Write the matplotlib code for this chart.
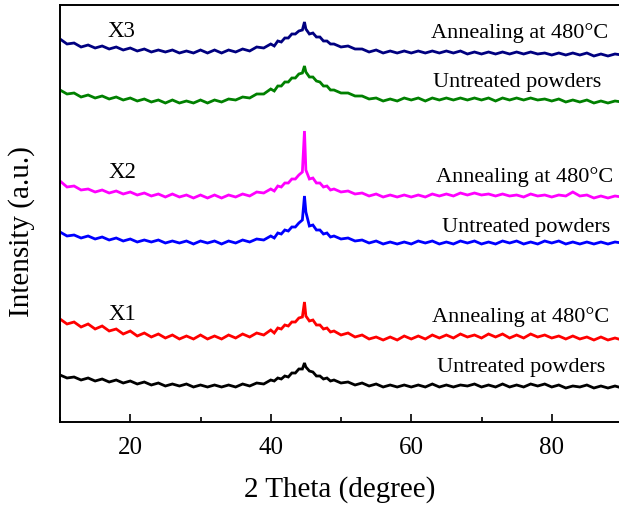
import numpy as np
import matplotlib
matplotlib.use("Agg")
import matplotlib.pyplot as plt
from matplotlib.ticker import MultipleLocator, NullLocator

plt.rcParams['font.family'] = ['Liberation Serif', 'DejaVu Serif']

# sampling grid (2 theta, degree)
two_theta = np.concatenate([
    np.arange(10, 41, 1.0),
    np.arange(40.5, 45.0, 0.5),
    [44.8],
    np.arange(45.0, 49.5, 0.5),
    np.arange(50, 91, 1.0),
])

x1_untreated = [47,44,45,42,44,41,43,40,42,39,41,38,40,37,39,36,38,36,38,35,37,35,37,35,37,35,38,36,39,38,42,
                41,44,43,46,45,49,49,53,53,
                59,
                55,51,50,46,46,43,44,41,42,
                39,40,37,39,36,38,35,37,35,37,35,37,35,38,35,37,35,37,36,38,35,37,35,38,35,37,35,38,36,38,35,37,34,36,35,37,34,36,34,36,34]
x1_annealed = [103,98,100,95,98,93,96,91,93,88,91,86,89,85,88,84,87,83,86,83,87,83,86,83,87,84,88,85,89,87,92,
               89,94,93,97,96,100,100,104,105,
               120,
               106,101,102,97,97,93,94,90,91,
               87,89,85,87,83,85,82,85,82,86,83,86,83,87,84,87,84,88,85,87,84,88,85,88,84,87,84,88,85,87,84,86,83,86,83,85,82,85,82,84,82]
x2_untreated = [190,186,187,184,186,183,185,182,184,181,183,180,182,180,182,179,181,179,181,178,181,179,181,178,181,179,182,180,183,182,186,
                184,189,188,192,191,195,195,199,202,
                226,
                210,196,197,192,192,188,189,185,186,
                183,184,181,182,179,181,178,180,178,180,178,181,179,181,178,180,178,181,179,181,178,180,178,181,179,181,178,180,178,181,179,181,178,180,178,180,178,180,178,180,179]
x2_annealed = [241,235,236,232,233,230,232,229,231,228,230,227,229,226,228,225,228,225,227,224,227,224,227,224,227,225,228,226,230,229,233,
               231,236,235,239,239,243,243,247,250,
               291,
               252,243,244,239,239,235,236,232,233,
               230,231,228,229,226,228,225,227,225,227,225,227,225,228,226,228,226,229,227,229,227,228,226,228,226,227,225,228,226,227,225,227,226,230,226,227,224,226,224,226,225]
x3_untreated = [332,328,329,325,327,324,326,323,325,322,324,321,323,320,322,319,322,319,321,319,322,319,322,320,323,322,325,324,328,328,333,
                331,336,336,340,340,344,344,348,349,
                356,
                350,345,345,341,340,336,336,332,332,
                329,329,326,326,323,324,321,323,321,324,322,324,321,324,322,324,322,324,322,324,322,324,321,324,322,324,322,324,322,323,321,323,320,322,320,322,319,321,319,321,320]
x3_annealed = [383,378,379,375,377,374,376,373,375,372,374,371,373,370,372,370,372,369,371,369,372,369,372,369,372,370,373,371,375,374,378,
               376,381,380,384,384,388,388,391,392,
               400,
               393,388,389,385,385,381,381,378,378,
               375,376,373,373,370,372,369,371,369,371,369,371,369,371,369,371,369,371,368,370,368,370,368,370,368,370,368,370,368,369,367,369,367,369,367,369,366,368,366,368,367]

series = [
    (x1_untreated, 'black'),
    (x1_annealed, '#ff0000'),
    (x2_untreated, '#0000ff'),
    (x2_annealed, '#ff00ff'),
    (x3_untreated, '#008000'),
    (x3_annealed, '#000080'),
]

sample_labels = ['X1', 'X2', 'X3']
sample_pos = [(18.9, 103), (18.9, 245), (18.7, 386)]
cond_labels = ['Untreated powders', 'Annealing at 480\u00b0C',
               'Untreated powders', 'Annealing at 480\u00b0C',
               'Untreated powders', 'Annealing at 480\u00b0C']
cond_pos = [(75.6, 51), (75.6, 101), (76.3, 191), (76.1, 241), (75.1, 336), (75.4, 385)]

fig = plt.figure(figsize=(6.19, 5.06), dpi=100)
ax = fig.add_axes([60/619, (506-423)/506, (622-60)/619, (423-6)/506])

for vals, col in series:
    ax.plot(two_theta, vals, color=col, lw=2.0, solid_joinstyle='miter')

for lab, (xx, yy) in zip(sample_labels, sample_pos):
    ax.text(xx, yy, lab, fontsize=16.5, ha='center', va='baseline')
for lab, (xx, yy) in zip(cond_labels, cond_pos):
    ax.text(xx, yy, lab, fontsize=16, ha='center', va='baseline')

ax.set_xlim(10, 90)
ax.set_ylim(0, 417)
ax.xaxis.set_major_locator(MultipleLocator(20))
ax.xaxis.set_minor_locator(MultipleLocator(10))
ax.yaxis.set_major_locator(NullLocator())
ax.tick_params(axis='x', which='major', direction='in', length=6, width=1.2, labelsize=18, pad=10)
ax.tick_params(axis='x', which='minor', direction='in', length=3.5, width=1.2)
for s in ax.spines.values():
    s.set_linewidth(1.4)

fig.text(340/619, 1 - 490/506, '2 Theta (degree)', fontsize=21, ha='center', va='center')
fig.text(22/619, 1 - 232/506, 'Intensity (a.u.)', fontsize=21, ha='center', va='center', rotation=90)

fig.savefig('out.png', dpi=100)
